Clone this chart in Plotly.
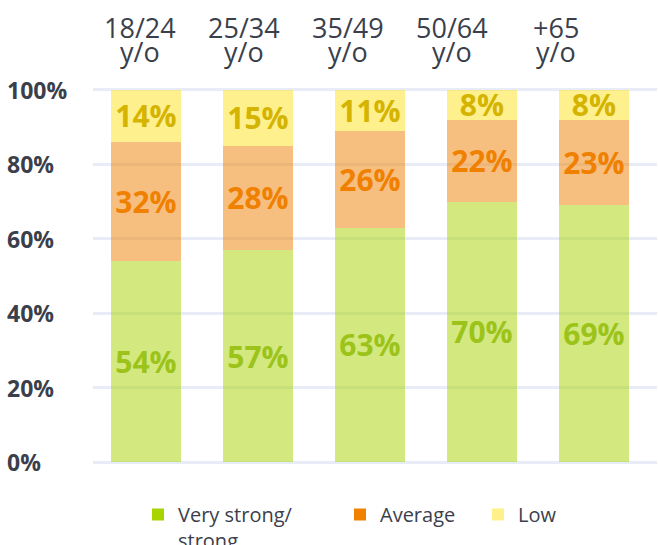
import plotly.graph_objects as go

categories = ["18/24", "25/34", "35/49", "50/64", "+65"]
label_suffix = "y/o"
strong = [54, 57, 63, 70, 69]
average = [32, 28, 26, 22, 23]
low = [14, 15, 11, 8, 8]
series_names = ["Very strong/<br>strong", "Average", "Low"]
y_ticks = [0, 20, 40, 60, 80, 100]
y_tick_labels = ["0%", "20%", "40%", "60%", "80%", "100%"]

FONT = "Open Sans"
DARK = "#3b3f4c"
W, H = 658, 545
ML, MR, MT, MB = 93, 1, 88, 81
PW, PH = W - ML - MR, H - MT - MB

def py(p):  # pixel row -> paper y
    return 1 + (MT - p) / PH

def px(p):  # pixel col -> paper x
    return (p - ML) / PW

fill = ["rgba(168,212,0,0.5)", "rgba(240,128,0,0.5)", "rgba(255,226,30,0.5)"]
legend_col = ["#A8D400", "#F08000", "#FFF08A"]
text_col = ["#9CC31A", "#F08000", "#D4B400"]
values = [strong, average, low]

fig = go.Figure()
for i, vals in enumerate(values):
    fig.add_trace(go.Bar(
        x=categories, y=vals,
        text=[f"{v}%" for v in vals],
        textposition="inside", insidetextanchor="middle",
        constraintext="none",
        textfont=dict(family=FONT, size=30, color=text_col[i], weight="bold"),
        marker=dict(color=fill[i], line=dict(width=0)),
        showlegend=False, hoverinfo="skip",
    ))

legend_keys = ["legend", "legend2", "legend3"]
legend_x_px = [138, 340, 478]
for i, name in enumerate(series_names):
    fig.add_trace(go.Bar(
        x=[categories[0]], y=[None], name=name,
        marker=dict(color=legend_col[i], line=dict(width=0)),
        legend=legend_keys[i], showlegend=True,
    ))

# helper trace for the top label axis
fig.add_trace(go.Scatter(x=list(range(len(categories))), y=[None]*len(categories),
                         xaxis="x2", showlegend=False, hoverinfo="skip"))

annotations = []
for v, t in zip(y_ticks, y_tick_labels):
    annotations.append(dict(
        xref="paper", yref="y", x=px(5), y=v, xanchor="left", yanchor="middle",
        text=t, showarrow=False,
        font=dict(family=FONT, size=23, color=DARK, weight="bold"),
    ))
for i, c in enumerate(categories):
    annotations.append(dict(
        xref="x2", yref="paper", x=i, y=py(27), xanchor="center", yanchor="middle",
        text=c, showarrow=False, font=dict(family=FONT, size=27, color=DARK),
    ))
    annotations.append(dict(
        xref="x2", yref="paper", x=i, y=py(51), xanchor="center", yanchor="middle",
        text=label_suffix, showarrow=False, font=dict(family=FONT, size=27, color=DARK),
    ))

leg_common = dict(orientation="h", yanchor="top", y=py(495), xanchor="left",
                  valign="top", bgcolor="rgba(0,0,0,0)",
                  font=dict(family=FONT, size=20, color=DARK))
layout_legends = {}
for k, xp in zip(legend_keys, legend_x_px):
    layout_legends[k] = dict(leg_common, x=px(xp))

fig.update_layout(
    width=W, height=H,
    margin=dict(l=ML, r=MR, t=MT, b=MB, autoexpand=False),
    paper_bgcolor="white", plot_bgcolor="white",
    barmode="stack", bargap=0.375,
    xaxis=dict(type="category", range=[-0.473, 4.563], showticklabels=False,
               showgrid=False, zeroline=False, showline=False, fixedrange=True),
    xaxis2=dict(type="linear", overlaying="x", side="top",
                range=[-0.452, 4.971], visible=False),
    yaxis=dict(range=[-0.5, 100.5], tickvals=y_ticks, showticklabels=False,
               showgrid=True, gridcolor="#E8ECF7", gridwidth=3,
               zeroline=False, showline=False),
    annotations=annotations,
    **layout_legends,
)

fig.write_html("out.html")
